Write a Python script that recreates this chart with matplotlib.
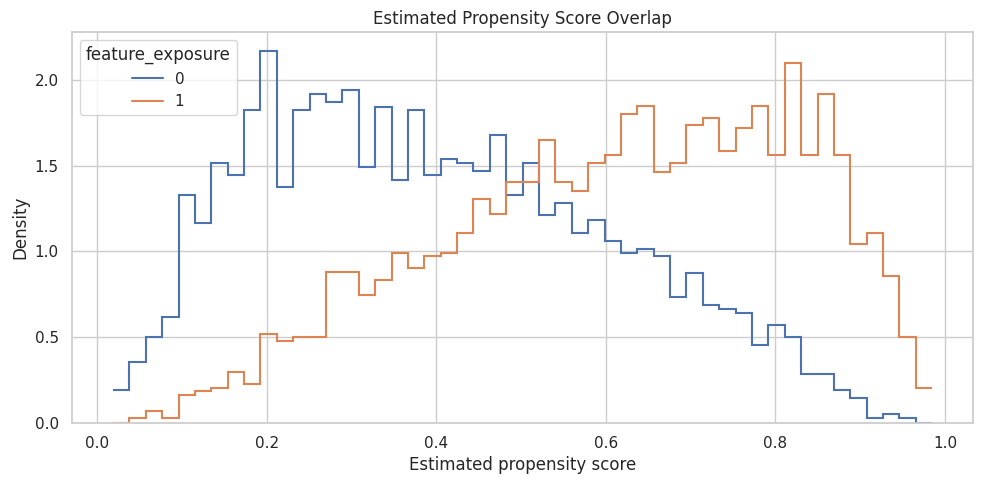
import numpy as np
import matplotlib
matplotlib.use("Agg")
import matplotlib.pyplot as plt
import seaborn as sns

sns.set_theme(style="whitegrid")

# shared bin edges (50 bins)
edge_lo = 0.0184
edge_hi = 0.985
n_bins = 50

# density per bin
dens_0 = [0.189, 0.353, 0.501, 0.618, 1.327, 1.163, 1.514, 1.444, 1.824, 2.173,
          1.373, 1.824, 1.918, 1.871, 1.941, 1.492, 1.845, 1.418, 1.824, 1.444,
          1.537, 1.514, 1.467, 1.678, 1.327, 1.514, 1.210, 1.280, 1.110, 1.186,
          1.063, 0.993, 1.016, 0.970, 0.736, 0.874, 0.689, 0.665, 0.642, 0.451,
          0.572, 0.501, 0.285, 0.285, 0.191, 0.144, 0.027, 0.051, 0.027, 0.0]
dens_1 = [0.0, 0.027, 0.070, 0.027, 0.160, 0.187, 0.203, 0.297, 0.226, 0.519,
          0.478, 0.501, 0.501, 0.882, 0.882, 0.747, 0.835, 0.993, 0.905, 0.970,
          0.993, 1.110, 1.307, 1.221, 1.403, 1.403, 1.649, 1.403, 1.354, 1.514,
          1.561, 1.805, 1.851, 1.465, 1.514, 1.740, 1.781, 1.584, 1.719, 1.851,
          1.561, 2.099, 1.561, 1.918, 1.561, 1.040, 1.110, 0.858, 0.501, 0.203]

edges = np.linspace(edge_lo, edge_hi, n_bins + 1)
pal = sns.color_palette("deep")

fig, ax = plt.subplots(figsize=(9.84, 4.84), dpi=100)
ax.stairs(dens_0, edges, baseline=None, color=pal[0], linewidth=1.5, label="0")
ax.stairs(dens_1, edges, baseline=None, color=pal[1], linewidth=1.5, label="1")
ax.margins(x=0.05, y=0.05)
ax.set_ylim(0, None)
ax.set_title("Estimated Propensity Score Overlap")
ax.set_xlabel("Estimated propensity score")
ax.set_ylabel("Density")
ax.legend(title="feature_exposure", loc="upper left")
fig.subplots_adjust(left=0.0732, right=0.989, top=0.934, bottom=0.127)
plt.savefig("out.png")
